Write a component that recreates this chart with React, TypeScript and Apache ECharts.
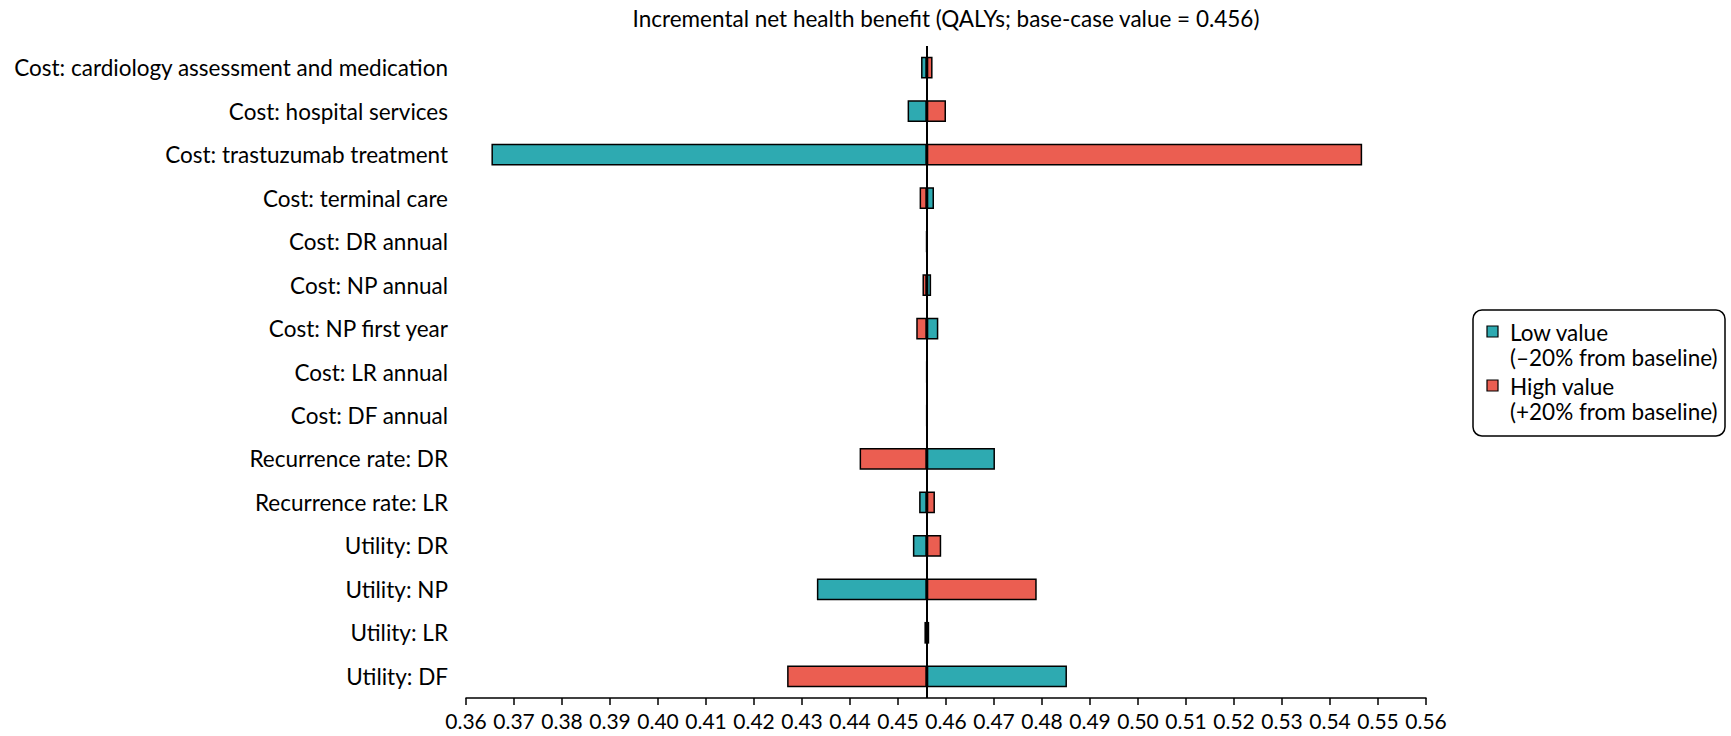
import React, { useEffect, useRef } from "react";
import * as echarts from "echarts";

const categories = [
  "Cost: cardiology assessment and medication",
  "Cost: hospital services",
  "Cost: trastuzumab treatment",
  "Cost: terminal care",
  "Cost: DR annual",
  "Cost: NP annual",
  "Cost: NP first year",
  "Cost: LR annual",
  "Cost: DF annual",
  "Recurrence rate: DR",
  "Recurrence rate: LR",
  "Utility: DR",
  "Utility: NP",
  "Utility: LR",
  "Utility: DF",
];

// Incremental NHB with parameter at low value (−20% from baseline)
const lowValues = [
  0.4548, 0.452, 0.3653, 0.4575, 0.4561, 0.4569, 0.4584, 0.45605, 0.45605,
  0.4702, 0.4544, 0.4531, 0.4331, 0.4555, 0.4852,
];
// Incremental NHB with parameter at high value (+20% from baseline)
const highValues = [
  0.4572, 0.46, 0.5467, 0.4545, 0.4559, 0.4551, 0.4538, 0.45595, 0.45595,
  0.442, 0.4577, 0.459, 0.4789, 0.4565, 0.4269,
];

const baseValue = 0.456;
const xMin = 0.36;
const xMax = 0.56;
const xInterval = 0.01;

const titleText = "Incremental net health benefit (QALYs; base-case value = 0.456)";
const lowLabel = ["Low value", "(–20% from baseline)"];
const highLabel = ["High value", "(+20% from baseline)"];

const TEAL = "#2EAAB1";
const RED = "#EB5E51";
const FONT = "Lato, 'Noto Sans', sans-serif";

export default function App() {
  const ref = useRef<HTMLDivElement>(null);

  useEffect(() => {
    if (!ref.current) return;
    const chart = echarts.init(ref.current, undefined, { renderer: "svg" });

    const lowBase = lowValues.map((v) => Math.min(v, baseValue));
    const lowSpan = lowValues.map((v) => Math.abs(v - baseValue));
    const highBase = highValues.map((v) => Math.min(v, baseValue));
    const highSpan = highValues.map((v) => Math.abs(v - baseValue));

    const gridLeft = 466;
    const gridRight = 305;
    const gridTop = 46;
    const gridBottom = 38;
    const gridCenter = gridLeft + (1731 - gridLeft - gridRight) / 2;

    const transparentBar = {
      type: "bar",
      barWidth: "50%",
      barGap: "-100%",
      silent: true,
      itemStyle: { color: "transparent", borderWidth: 0 },
      emphasis: { disabled: true },
      z: 1,
    };
    const coloredBar = (color: string) => ({
      type: "bar",
      barWidth: "50%",
      barGap: "-100%",
      itemStyle: { color, borderColor: "#000", borderWidth: 1.5 },
      emphasis: { disabled: true },
      z: 2,
    });

    const legendX = 1473;
    const legendY = 310;
    const legendFont = 22.5;

    chart.setOption({
      animation: false,
      textStyle: { fontFamily: FONT },
      title: {
        text: titleText,
        left: gridCenter,
        textAlign: "center",
        top: 7,
        padding: 0,
        textStyle: { fontFamily: FONT, fontSize: 22.5, fontWeight: "normal", color: "#000" },
      },
      grid: { left: gridLeft, right: gridRight, top: gridTop, bottom: gridBottom, containLabel: false },
      xAxis: {
        type: "value",
        min: xMin,
        max: xMax,
        interval: xInterval,
        splitLine: { show: false },
        axisLine: { show: true, lineStyle: { color: "#000", width: 1.5 } },
        axisTick: { show: true, length: 7, lineStyle: { color: "#000", width: 1.5 } },
        axisLabel: {
          formatter: (v: number) => v.toFixed(2),
          fontFamily: FONT,
          fontSize: 21,
          color: "#000",
          margin: 12,
        },
      },
      yAxis: {
        type: "category",
        data: categories,
        inverse: true,
        axisLine: { show: false },
        axisTick: { show: false },
        splitLine: { show: false },
        axisLabel: { fontFamily: FONT, fontSize: 22.5, color: "#000", margin: 18 },
      },
      series: [
        { ...transparentBar, name: "lowBase", stack: "low", data: lowBase },
        { ...coloredBar(TEAL), name: lowLabel.join(" "), stack: "low", data: lowSpan },
        { ...transparentBar, name: "highBase", stack: "high", data: highBase },
        {
          ...coloredBar(RED),
          name: highLabel.join(" "),
          stack: "high",
          data: highSpan,
          markLine: {
            silent: true,
            symbol: "none",
            precision: 4,
            label: { show: false },
            lineStyle: { color: "#000", width: 2, type: "solid" },
            data: [{ xAxis: baseValue }],
            z: 5,
          },
        },
      ],
      graphic: [
        {
          type: "rect",
          shape: { x: legendX, y: legendY, width: 252, height: 126, r: 9 },
          style: { fill: "#fff", stroke: "#000", lineWidth: 1.5 },
        },
        {
          type: "rect",
          shape: { x: legendX + 14, y: legendY + 16, width: 11, height: 11 },
          style: { fill: TEAL, stroke: "#000", lineWidth: 1.2 },
        },
        {
          type: "text",
          x: legendX + 37,
          y: legendY + 22,
          style: { text: lowLabel[0], fontFamily: FONT, fontSize: legendFont, fill: "#000", verticalAlign: "middle" },
        },
        {
          type: "text",
          x: legendX + 37,
          y: legendY + 47,
          style: { text: lowLabel[1], fontFamily: FONT, fontSize: legendFont, fill: "#000", verticalAlign: "middle" },
        },
        {
          type: "rect",
          shape: { x: legendX + 14, y: legendY + 70, width: 11, height: 11 },
          style: { fill: RED, stroke: "#000", lineWidth: 1.2 },
        },
        {
          type: "text",
          x: legendX + 37,
          y: legendY + 76,
          style: { text: highLabel[0], fontFamily: FONT, fontSize: legendFont, fill: "#000", verticalAlign: "middle" },
        },
        {
          type: "text",
          x: legendX + 37,
          y: legendY + 101,
          style: { text: highLabel[1], fontFamily: FONT, fontSize: legendFont, fill: "#000", verticalAlign: "middle" },
        },
      ],
    });

    return () => chart.dispose();
  }, []);

  return (
    <div
      ref={ref}
      style={{ position: "fixed", left: 0, top: 0, width: 1731, height: 736, background: "#fff" }}
    />
  );
}
